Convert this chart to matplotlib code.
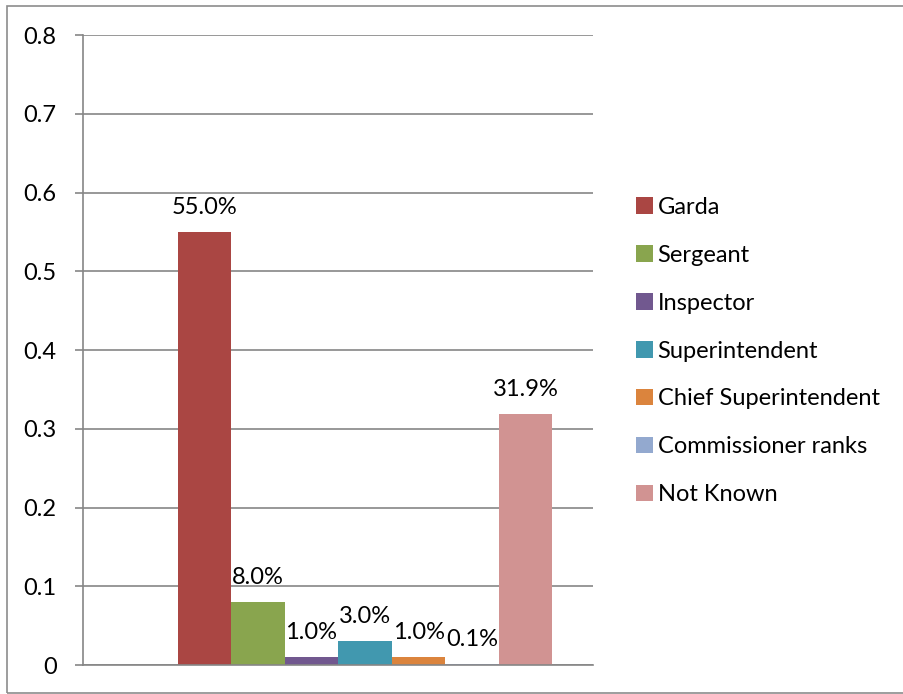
import matplotlib.pyplot as plt
from matplotlib.patches import Rectangle

ranks = ['Garda', 'Sergeant', 'Inspector', 'Superintendent',
         'Chief Superintendent', 'Commissioner ranks', 'Not Known']
shares = [0.55, 0.08, 0.01, 0.03, 0.01, 0.001, 0.319]
labels = ['55.0%', '8.0%', '1.0%', '3.0%', '1.0%', '0.1%', '31.9%']
colors = ['#AA4643', '#89A54E', '#71588F', '#4198AF',
          '#DB843D', '#93A9CF', '#D19392']
yticks = [0, 0.1, 0.2, 0.3, 0.4, 0.5, 0.6, 0.7, 0.8]
ytick_labels = ['0', '0.1', '0.2', '0.3', '0.4', '0.5', '0.6', '0.7', '0.8']

plt.rcParams['font.family'] = ['Lato', 'DejaVu Sans']
fs = 17

fig = plt.figure(figsize=(9.04, 6.94), dpi=100)
ax = fig.add_axes([83 / 904, 1 - 665 / 694, (593 - 83) / 904, (665 - 35) / 694])

# outer chart border like the excel chart area
fig.patches.append(Rectangle((7 / 904, 1 - 693 / 694), 1.0, (693 - 6) / 694,
                             transform=fig.transFigure, fill=False,
                             edgecolor='#8c8c8c', linewidth=1.2))

for i, (r, v, c, lab) in enumerate(zip(ranks, shares, colors, labels)):
    ax.bar(i, v, width=1.0, color=c, label=r, zorder=3)
    ax.annotate(lab, (i, v), xytext=(0, 10), textcoords='offset points',
                ha='center', va='bottom', fontsize=fs, zorder=4)

ax.set_xlim(-2.27, 7.26)
ax.set_ylim(0, 0.8)
ax.set_yticks(yticks)
ax.set_yticklabels(ytick_labels, fontsize=fs)
ax.set_xticks([])
ax.yaxis.grid(True, color='#868686', linewidth=1.2, zorder=0)
ax.tick_params(axis='y', length=6, width=1.2, color='#868686', pad=13)

for s in ['top', 'right']:
    ax.spines[s].set_visible(False)
for s in ['left', 'bottom']:
    ax.spines[s].set_color('#868686')
    ax.spines[s].set_linewidth(1.2)
    ax.spines[s].set_zorder(5)

ax.legend(loc='center left', bbox_to_anchor=(627 / 904, 343 / 694),
          bbox_transform=fig.transFigure, frameon=False, fontsize=fs,
          handlelength=0.7, handleheight=0.7, handletextpad=0.2,
          labelspacing=1.14, borderaxespad=0)

fig.savefig('out.png', dpi=100)
